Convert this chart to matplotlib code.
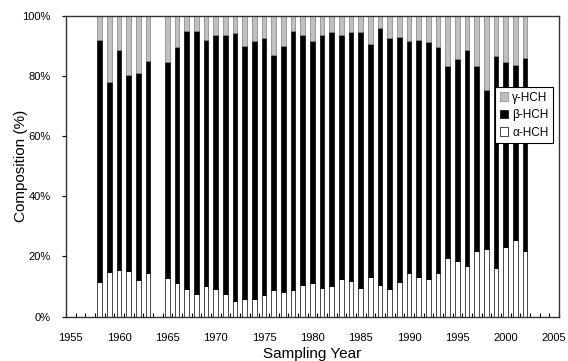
import numpy as np
import matplotlib
matplotlib.use("Agg")
import matplotlib.pyplot as plt
from matplotlib.ticker import FixedLocator, PercentFormatter

plt.rcParams["font.family"] = ["Liberation Sans", "DejaVu Sans"]

# sampling years (no sample in 1964)
years = [1958, 1959, 1960, 1961, 1962, 1963,
         1965, 1966, 1967, 1968, 1969, 1970, 1971, 1972, 1973, 1974,
         1975, 1976, 1977, 1978, 1979, 1980, 1981, 1982, 1983, 1984,
         1985, 1986, 1987, 1988, 1989, 1990, 1991, 1992, 1993, 1994,
         1995, 1996, 1997, 1998, 1999, 2000, 2001, 2002]

# composition, % of total HCH
alpha = [11.6, 14.7, 15.6, 15.0, 12.2, 14.4,
         12.7, 11.1, 9.3, 7.4, 10.0, 9.3, 7.4, 5.3, 6.0, 5.9,
         7.1, 9.0, 8.3, 8.7, 10.4, 11.3, 9.4, 10.1, 12.4, 11.7,
         9.4, 13.1, 10.4, 9.1, 11.4, 14.4, 13.3, 12.4, 14.6, 19.3,
         18.5, 16.7, 21.8, 22.5, 16.0, 23.0, 25.3, 21.8]
beta = [80.4, 63.1, 73.1, 65.3, 68.8, 70.6,
        72.0, 78.3, 85.4, 87.3, 81.9, 84.3, 86.0, 88.9, 83.8, 85.8,
        85.6, 77.8, 81.6, 86.0, 83.0, 80.4, 84.0, 84.4, 81.0, 82.8,
        85.1, 77.4, 85.5, 83.6, 81.5, 77.1, 78.6, 78.7, 75.1, 63.9,
        66.9, 71.7, 61.6, 52.9, 70.5, 61.5, 58.4, 64.1]
gamma = [8.0, 22.2, 11.3, 19.7, 19.0, 15.0,
         15.3, 10.6, 5.3, 5.3, 8.1, 6.4, 6.6, 5.8, 10.2, 8.3,
         7.3, 13.2, 10.1, 5.3, 6.6, 8.3, 6.6, 5.5, 6.6, 5.5,
         5.5, 9.5, 4.1, 7.3, 7.1, 8.5, 8.1, 8.9, 10.3, 16.8,
         14.6, 11.6, 16.6, 24.6, 13.5, 15.5, 16.3, 14.1]

year_labels = [1955, 1960, 1965, 1970, 1975, 1980, 1985, 1990, 1995, 2000, 2005]

x = np.array(years)
a = np.array(alpha)
b = np.array(beta)
g = np.array(gamma)

fig = plt.figure(figsize=(5.68, 3.61), dpi=100)
ax = fig.add_axes([0.116, 0.123, 0.868, 0.834])

w = 0.5
ba = ax.bar(x, a, w, color="white", edgecolor="black", linewidth=0.5, label="α-HCH")
bb = ax.bar(x, b, w, bottom=a, color="black", edgecolor="black", linewidth=0.5, label="β-HCH")
bg = ax.bar(x, g, w, bottom=a + b, color="#c0c0c0", edgecolor="#808080", linewidth=0.5, label="γ-HCH")

ax.set_xlim(1954.5, 2005.5)
ax.set_ylim(0, 100)
ax.set_xticks(year_labels)
ax.xaxis.set_minor_locator(FixedLocator(np.arange(1954.5, 2006, 1.0)))
ax.tick_params(axis="x", which="major", length=0, labelsize=8, pad=11.5)
ax.tick_params(axis="x", which="minor", direction="in", length=3, width=0.8)
ax.set_yticks(np.arange(0, 101, 20))
ax.yaxis.set_major_formatter(PercentFormatter(decimals=0))
ax.tick_params(axis="y", direction="out", length=3, width=0.8, labelsize=8, pad=8)

for s in ax.spines.values():
    s.set_linewidth(1.0)
    s.set_color("#333333")

ax.set_xlabel("Sampling Year", fontsize=11, labelpad=3)
ax.set_ylabel("Composition (%)", fontsize=11)
ax.yaxis.set_label_coords(-0.077, 0.5)

leg = ax.legend([bg, bb, ba], ["γ-HCH", "β-HCH", "α-HCH"],
                loc="upper right", bbox_to_anchor=(0.988, 0.762),
                fontsize=8.5, fancybox=False, framealpha=1, edgecolor="black",
                handlelength=0.75, handleheight=0.75, handletextpad=0.3,
                borderpad=0.4, labelspacing=0.45, borderaxespad=0)
leg.get_frame().set_linewidth(0.8)

fig.savefig("out.png", dpi=100)
